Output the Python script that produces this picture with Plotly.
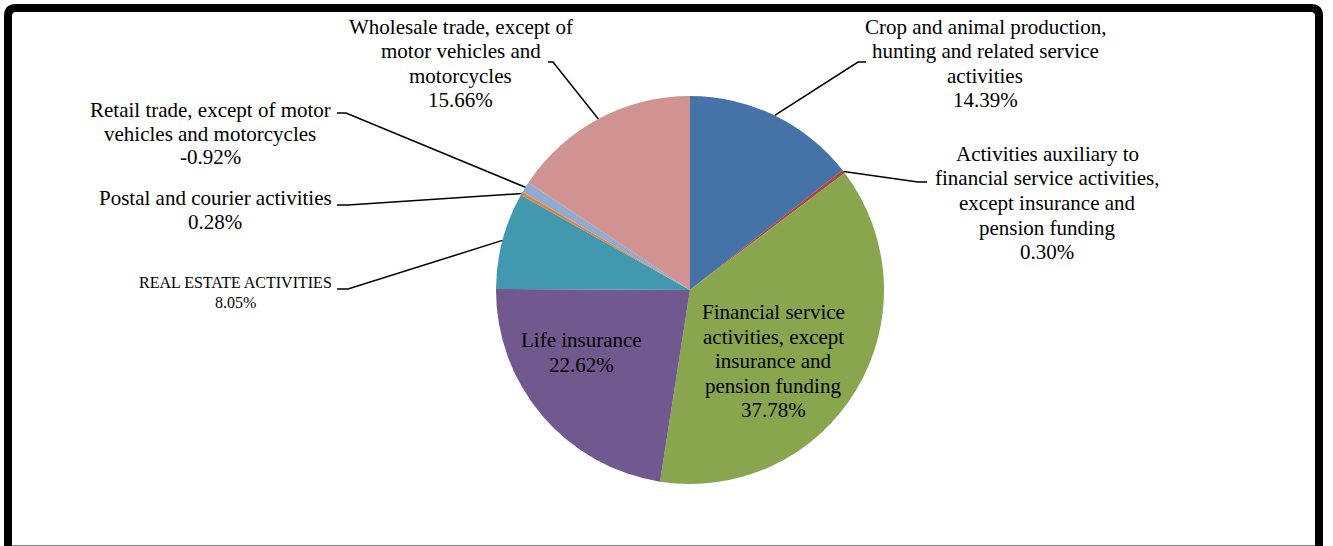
import math
import plotly.graph_objects as go

# Share of each economic activity (percent); slices are drawn clockwise from 12 o'clock
activities = [
    "Crop and animal production,<br>hunting and related service<br>activities",
    "Activities auxiliary to<br>financial service activities,<br>except insurance and<br>pension funding",
    "Financial service<br>activities, except<br>insurance and<br>pension funding",
    "Life insurance",
    "REAL ESTATE ACTIVITIES",
    "Postal and courier activities",
    "Retail trade, except of motor<br>vehicles and motorcycles",
    "Wholesale trade, except of<br>motor vehicles and<br>motorcycles",
]
shares = [14.39, 0.30, 37.78, 22.62, 8.05, 0.28, -0.92, 15.66]
colors = ["#4572A7", "#AA4643", "#89A54E", "#71588F", "#4198AF", "#DB843D", "#93A9CF", "#D19392"]

W, H = 1333, 546
CX, CY, R = 690, 290, 194  # pie centre and radius in pixels

def fx(x):
    return x / W

def fy(y):
    return 1 - y / H

sizes = [abs(v) for v in shares]
total = sum(sizes)

fig = go.Figure(go.Pie(
    values=sizes,
    labels=[a.replace("<br>", " ") for a in activities],
    marker=dict(colors=colors, line=dict(width=0)),
    sort=False,
    direction="clockwise",
    rotation=0,
    textinfo="none",
    hoverinfo="label+percent",
    showlegend=False,
    domain=dict(x=[fx(CX - R), fx(CX + R)], y=[fy(CY + R), fy(CY - R)]),
))

FONT = "Liberation Serif, Times New Roman, serif"

# Label placement: (text centre x, text centre y, font size, line pitch, leader start, leader elbow)
# in pixels. A leader of None means the label sits inside its slice.
placement = [
    (985, 63.5, 21, 24.3, (866, 62), (858, 62)),
    (1047, 203, 21, 24.5, (927, 182), (918, 182)),
    (773, 361, 21, 24.5, None, None),
    (581, 352.5, 21, 24.5, None, None),
    (235, 292, 16, 20, (337, 289), (348, 289)),
    (215, 210, 21, 24, (337, 205), (348, 205)),
    (210, 133.5, 21, 23.5, (337, 113), (346, 113)),
    (461, 63.5, 21, 24.3, (548, 62), (553, 62)),
]

annotations = []
shapes = []
cum = 0.0
for name, val, size, (tx, ty, fs, pitch, start, elbow) in zip(activities, shares, sizes, placement):
    mid = (cum + size / 2) / total * 2 * math.pi
    cum += size
    ax = CX + R * math.sin(mid)
    ay = CY - R * math.cos(mid)
    lines = name.split("<br>") + [f"{val:.2f}%"]
    n = len(lines)
    for i, line in enumerate(lines):
        ly = ty + (i - (n - 1) / 2) * pitch
        annotations.append(dict(
            x=fx(tx), y=fy(ly), xref="paper", yref="paper",
            text=line, showarrow=False,
            xanchor="center", yanchor="middle", align="center",
            font=dict(family=FONT, size=fs, color="black"),
        ))
    if start is not None:
        path = (f"M {fx(start[0])},{fy(start[1])} L {fx(elbow[0])},{fy(elbow[1])} "
                f"L {fx(ax)},{fy(ay)}")
        shapes.append(dict(type="path", xref="paper", yref="paper", path=path,
                           line=dict(color="black", width=1.5)))

# Thick black chart frame with rounded top corners, open at the bottom edge
frame = (f"M {fx(8)},{fy(600)} L {fx(8)},{fy(16)} Q {fx(8)},{fy(8)} {fx(16)},{fy(8)} "
         f"L {fx(1311)},{fy(8)} Q {fx(1319)},{fy(8)} {fx(1319)},{fy(16)} L {fx(1319)},{fy(600)}")
shapes.append(dict(type="path", xref="paper", yref="paper", path=frame,
                   line=dict(color="black", width=8)))
shapes.append(dict(type="line", xref="paper", yref="paper",
                   x0=fx(12), x1=fx(1315), y0=fy(545.5), y1=fy(545.5),
                   line=dict(color="#808080", width=1)))

fig.update_layout(
    width=W, height=H,
    margin=dict(l=0, r=0, t=0, b=0),
    paper_bgcolor="white",
    plot_bgcolor="white",
    annotations=annotations,
    shapes=shapes,
)

fig.write_html("out.html")
